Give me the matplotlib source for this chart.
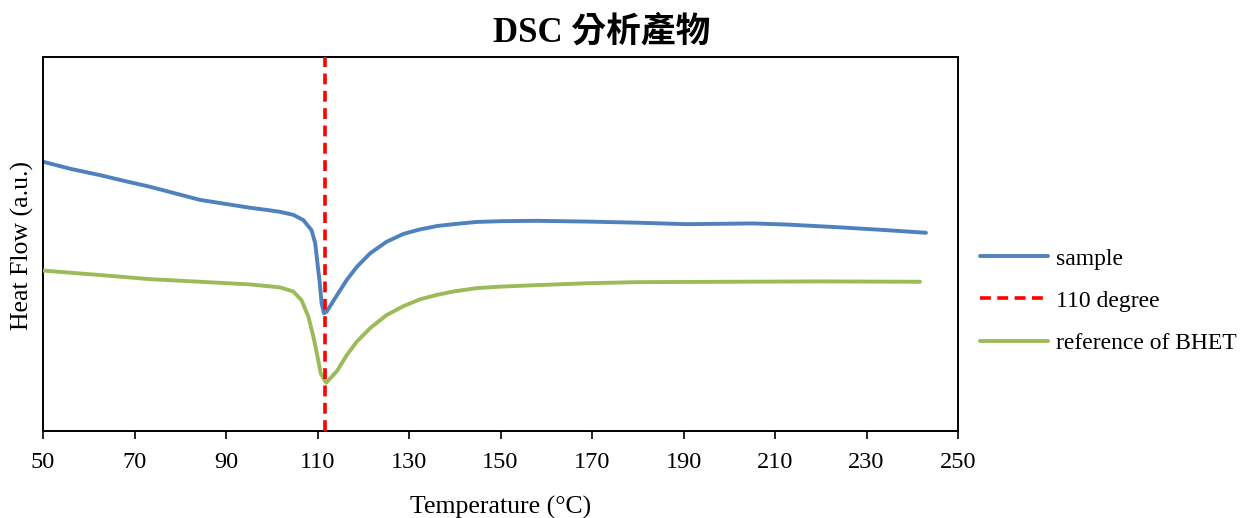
import matplotlib
matplotlib.use("Agg")
import matplotlib.pyplot as plt

# --- data (y in arbitrary units) ---
sample_T = [50, 56, 62.5, 68, 73.4, 79, 84.3, 90, 95.2, 99, 101.8, 104.7, 106.9, 108.7, 109.5,
            110.0, 110.5, 110.9, 111.4, 112.0, 114.3, 116.4, 118.6, 121.5, 125.1, 128.8,
            132.4, 136.1, 139.7, 144.8, 150.0, 157.9, 168.8, 179.8, 190.7, 205.3, 212.6,
            223.5, 234.4, 243.0]
sample_hf = [72.0, 70.1, 68.4, 66.8, 65.3, 63.5, 61.8, 60.7, 59.7, 59.1, 58.6, 57.8, 56.4, 53.7, 50.2,
             44.8, 39.5, 34.1, 31.5, 31.9, 36.4, 40.4, 43.9, 47.5, 50.6, 52.7,
             53.9, 54.8, 55.3, 55.9, 56.1, 56.2, 56.0, 55.7, 55.3, 55.5, 55.2,
             54.5, 53.7, 53.0]

ref_T = [50, 62.5, 73.4, 84.3, 95.2, 101.8, 104.7, 106.5, 108.0, 109.1, 110.0, 110.7, 111.9,
         114.3, 116.4, 118.6, 121.5, 125.1, 128.8, 132.4, 136.1, 139.7, 144.8, 150.0, 157.9,
         168.8, 179.8, 200.0, 220.0, 241.7]
ref_hf = [42.9, 41.7, 40.6, 39.9, 39.2, 38.4, 37.3, 35.0, 30.6, 25.2, 19.9, 15.4, 12.9,
          16.1, 20.3, 23.9, 27.5, 31.0, 33.4, 35.2, 36.4, 37.3, 38.2, 38.6, 39.0,
          39.5, 39.8, 39.9, 40.0, 39.9]

marker_T = 111.6
x_ticks = [50, 70, 90, 110, 130, 150, 170, 190, 210, 230, 250]

title = "DSC 分析產物"
series_labels = ["sample", "110 degree", "reference of BHET"]

serif = ["Liberation Serif", "Noto Sans CJK TC", "DejaVu Serif"]

W, H = 1241, 518
fig = plt.figure(figsize=(W / 100, H / 100), dpi=100)
ax = fig.add_axes([43 / W, 1 - 431 / H, (958 - 43) / W, (431 - 57) / H])

ax.plot(sample_T, sample_hf, color="#4F81BD", lw=2.8, label=series_labels[0],
        solid_capstyle="round", solid_joinstyle="round", zorder=2)
ax.axvline(marker_T, color="#FF0000", lw=2.6, ls=(0, (3.0, 1.8)), label=series_labels[1], zorder=4)
ax.plot(ref_T, ref_hf, color="#9BBB59", lw=2.8, label=series_labels[2],
        solid_capstyle="round", solid_joinstyle="round", zorder=3)

ax.set_xlim(50, 250)
ax.set_ylim(0, 100)
ax.set_xticks(x_ticks)
ax.set_xticklabels([str(t) for t in x_ticks], fontfamily=serif, fontsize=17.5)
ax.set_yticks([])
ax.tick_params(axis="x", direction="out", length=6, width=1.2, pad=9)
for s in ax.spines.values():
    s.set_linewidth(1.4)
    s.set_color("black")

fig.text(501 / W, 1 - 507 / H, "Temperature (°C)", ha="center", va="center",
         fontfamily=serif, fontsize=18.5)
fig.text(22 / W, 1 - 245 / H, "Heat Flow (a.u.)", ha="center", va="center", rotation=90,
         fontfamily=serif, fontsize=18.5)
fig.text(602 / W, 1 - 33 / H, title, ha="center", va="center",
         fontfamily=serif, fontsize=25, fontweight="bold")

leg = ax.legend(loc="center left", bbox_to_anchor=(1.024, (431 - 301) / 374), frameon=False,
                prop={"family": serif, "size": 17}, handlelength=2.9, handletextpad=0.34,
                labelspacing=0.87, borderpad=0, borderaxespad=0)

fig.savefig("out.png", dpi=100)
